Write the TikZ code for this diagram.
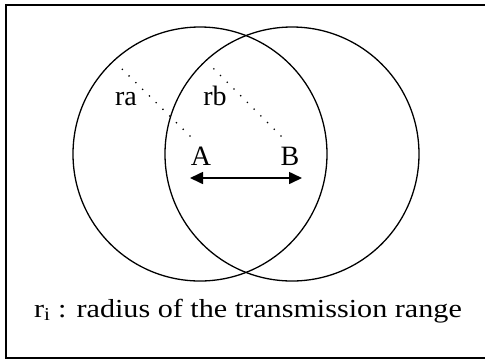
\documentclass[tikz,border=0pt]{standalone}
\usepackage{fontspec}
\setmainfont{Liberation Serif}
\usetikzlibrary{arrows.meta}
\begin{document}
\begin{tikzpicture}[x=1pt, y=-1pt,
  every node/.style={inner sep=0pt, anchor=base, font=\fontsize{28}{32}\selectfont},
  txrange/.style={line width=1.3pt},
  radiusline/.style={line width=1.8pt, line cap=round, dash pattern=on 0pt off 9.5pt}]
  \useasboundingbox (0,0) rectangle (485,360);
  % frame, right side lies outside the picture
  \draw[line width=2pt] (492,5) -- (6,5) -- (6,358) -- (492,358);
  % transmission ranges
  \coordinate (ca) at (200,154);
  \coordinate (cb) at (292,154);
  \draw[txrange] (ca) circle[radius=127];
  \draw[txrange] (cb) circle[radius=127];
  % radii
  \coordinate (ra0) at (190,136);
  \coordinate (ra1) at (120,67);
  \coordinate (rb0) at (281,136);
  \coordinate (rb1) at (212,67);
  \draw[radiusline] (ra0) -- (ra1);
  \draw[radiusline] (rb0) -- (rb1);
  \node (ra) at (126,105) {ra};
  \node (rb) at (215,105) {rb};
  % nodes
  \node (A) at (201,165) {A};
  \node (B) at (290,165) {B};
  \coordinate (pa) at (190,178);
  \coordinate (pb) at (302,178);
  \draw[line width=1.6pt, {Triangle[length=13pt,width=12pt]}-{Triangle[length=13pt,width=12pt]}] (pa) -- (pb);
  % legend
  \node[font=\fontsize{26}{30}\selectfont] (legend) at (248,317)
    {\scalebox{1.16}[1]{r\textsubscript{i} : radius of the transmission range}};
\end{tikzpicture}
\end{document}
